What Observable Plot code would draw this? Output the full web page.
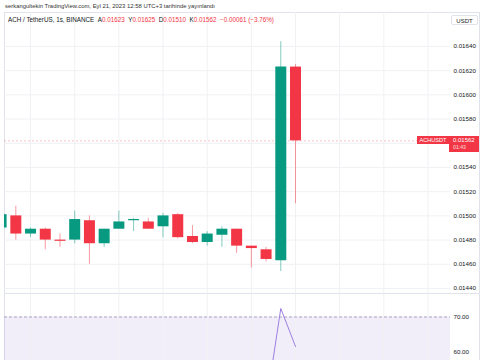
<!DOCTYPE html>
<html>
<head>
<meta charset="utf-8">
<script src="https://cdn.jsdelivr.net/npm/d3@7"></script>
<script src="https://cdn.jsdelivr.net/npm/@observablehq/plot@0.6"></script>
<style>
  html, body { margin: 0; padding: 0; background: #fff; }
  #wrap { position: relative; width: 485px; height: 360px; overflow: hidden; background: #fff;
          font-family: "Liberation Sans", Arial, sans-serif; color: #131722; }
  .abs { position: absolute; white-space: nowrap; }
</style>
</head>
<body>
<div id="wrap">
  <div class="abs" id="title" style="left:5px;top:3px;font-size:5.9px;color:#333;"></div>
  <div class="abs" style="left:4px;top:12px;width:476px;height:350px;border:1px solid #e0e3eb;box-sizing:border-box;"></div>
  <div class="abs" id="price" style="left:0;top:12px;"></div>
  <div class="abs" style="left:4px;top:293px;width:476px;height:1px;background:#e0e3eb;"></div>
  <div class="abs" id="rsi" style="left:0;top:294px;"></div>
  <div class="abs" id="legend" style="left:8px;top:16px;font-size:6.3px;"></div>
  <div class="abs" id="usdt" style="left:451px;top:15px;width:27px;height:10px;border:1px solid #e0e3eb;border-radius:2px;background:#fff;font-size:6px;line-height:10px;text-align:center;box-sizing:border-box;">USDT</div>
  <div class="abs" id="symLabel" style="left:417px;width:32px;height:8px;background:#f23645;color:#fff;font-size:5.6px;line-height:8px;text-align:center;"></div>
  <div class="abs" id="pxLabel" style="left:449px;width:30px;height:16px;background:#f23645;color:#fff;text-align:left;padding-left:4px;box-sizing:border-box;">
    <div id="pxVal" style="font-size:6px;line-height:8px;height:8px;"></div>
    <div id="pxTime" style="font-size:5.2px;line-height:7px;height:7px;opacity:0.8;"></div>
  </div>
</div>
<script>
// ---- data ----
const titleText = "serkangultekin TradingView.com, Eyl 21, 2023 12:58 UTC+3 tarihinde yayınlandı";
const symbolName = "ACH / TetherUS, 1s, BINANCE";
const symbolShort = "ACHUSDT";
const countdown = "01:43";
const ohlcLetters = ["A", "Y", "D", "K"];

const open  = [0.01490, 0.01500, 0.01485, 0.01489, 0.01480, 0.01480, 0.01496, 0.01477, 0.01489, 0.01496, 0.01495, 0.01491, 0.01501, 0.01483, 0.01478, 0.01484, 0.01489, 0.01475, 0.01472, 0.01463, 0.01623];
const high  = [0.01502, 0.01508, 0.01490, 0.01490, 0.01485, 0.01504, 0.01500, 0.01489, 0.01504, 0.01498, 0.01498, 0.01502, 0.01502, 0.01492, 0.01487, 0.01491, 0.01489, 0.01475, 0.01474, 0.01644, 0.01625];
const low   = [0.01489, 0.01480, 0.01482, 0.01472, 0.01474, 0.01477, 0.01460, 0.01474, 0.01489, 0.01487, 0.01489, 0.01482, 0.01481, 0.01477, 0.01475, 0.01474, 0.01469, 0.01457, 0.01462, 0.01454, 0.01510];
const close = [0.01501, 0.01485, 0.01489, 0.01480, 0.01479, 0.01497, 0.01477, 0.01489, 0.01495, 0.01497, 0.01489, 0.01500, 0.01482, 0.01478, 0.01485, 0.01489, 0.01475, 0.01473, 0.01464, 0.01623, 0.01562];

const rsiIndex = [18, 19, 20];
const rsiValue = [45.0, 72.4, 61.7];

const priceGrid = [0.01440, 0.01460, 0.01480, 0.01500, 0.01520, 0.01540, 0.01560, 0.01580, 0.01600, 0.01620, 0.01640];
// 0.01560 is hidden behind the last-price label in the reference
const priceTickLabels = [0.01440, 0.01460, 0.01480, 0.01500, 0.01520, 0.01540, 0.01580, 0.01600, 0.01620, 0.01640];
const rsiTicks = [60, 70];
const rsiBandLo = 30, rsiBandHi = 70;
const timeGridIndex = [2, 5, 8, 11, 14, 17, 20, 23, 26, 29];

// ---- build ----
const GREEN = "#089981", RED = "#f23645", GRID = "#f0f1f4";
const candles = open.map((o, i) => ({i, o, h: high[i], l: low[i], c: close[i], up: close[i] >= o}));
const last = candles[candles.length - 1];
const prev = candles[candles.length - 2];
const chg = last.c - prev.c;
const pct = chg / prev.c * 100;
const fmt = v => v.toFixed(5);
const minus = s => s.replace("-", "−");

document.getElementById("title").textContent = titleText;
const vals = [last.o, last.h, last.l, last.c];
const col = last.up ? GREEN : RED;
document.getElementById("legend").innerHTML =
  symbolName + "&nbsp;&nbsp;" +
  ohlcLetters.map((k, j) => `${k}<span style="color:${col}">${fmt(vals[j])}</span>`).join("&nbsp;&nbsp;") +
  `&nbsp;&nbsp;<span style="color:${col}">${minus(fmt(chg))} (${minus(pct.toFixed(2))}%)</span>`;

const xScale = {type: "linear", domain: [0, 29], range: [0.6, 427.5]};
const common = {width: 485, marginLeft: 4, marginRight: 35, marginTop: 0, marginBottom: 0,
  style: {fontFamily: "'Liberation Sans', Arial, sans-serif", fontSize: "6.2px", color: "#131722", background: "transparent"}};

const pricePlot = Plot.plot({
  ...common,
  height: 281,
  x: {...xScale, axis: null},
  y: {domain: [0.0144, 0.0164], range: [276, 34], axis: null},
  marks: [
    Plot.gridY(priceGrid, {stroke: GRID, strokeOpacity: 1}),
    Plot.ruleX(timeGridIndex, {stroke: GRID, strokeOpacity: 1}),
    Plot.ruleY([last.c], {stroke: RED, strokeOpacity: 0.3, strokeDasharray: "2,2"}),
    Plot.ruleX(candles, {x: "i", y1: "l", y2: "h", stroke: d => d.up ? GREEN : RED, strokeOpacity: 0.5, strokeWidth: 1, clip: true}),
    Plot.ruleX(candles, {x: "i", y1: "o", y2: "c", stroke: d => d.up ? GREEN : RED, strokeWidth: 11, clip: true}),
    Plot.axisY(priceTickLabels, {anchor: "right", tickSize: 0, tickPadding: 3, tickFormat: fmt, fill: "#131722"})
  ]
});
document.getElementById("price").appendChild(pricePlot);

const yPx = 12 + pricePlot.scale("y").apply(last.c);
const sym = document.getElementById("symLabel");
sym.textContent = symbolShort;
sym.style.top = (yPx - 4) + "px";
document.getElementById("pxVal").textContent = fmt(last.c);
document.getElementById("pxTime").textContent = countdown;
document.getElementById("pxLabel").style.top = (yPx - 4) + "px";

const rsiData = rsiIndex.map((i, k) => ({i, v: rsiValue[k]}));
const rsiPlot = Plot.plot({
  ...common,
  height: 66,
  x: {...xScale, axis: null},
  y: {domain: [60, 70], range: [58, 22.5], axis: null},
  marks: [
    Plot.rect([{lo: rsiBandLo, hi: rsiBandHi}], {y1: "lo", y2: "hi", fill: "#7e57c2", fillOpacity: 0.1, clip: true}),
    Plot.ruleX(timeGridIndex, {stroke: GRID, strokeOpacity: 1}),
    Plot.ruleY([rsiBandHi], {stroke: "#9a93b0", strokeDasharray: "3,2", strokeWidth: 0.8}),
    Plot.line(rsiData, {x: "i", y: "v", stroke: "#9c7fe0", strokeWidth: 1, clip: true}),
    Plot.axisY(rsiTicks, {anchor: "right", tickSize: 0, tickPadding: 3, tickFormat: d => d.toFixed(2), fill: "#131722"})
  ]
});
document.getElementById("rsi").appendChild(rsiPlot);
</script>
</body>
</html>
